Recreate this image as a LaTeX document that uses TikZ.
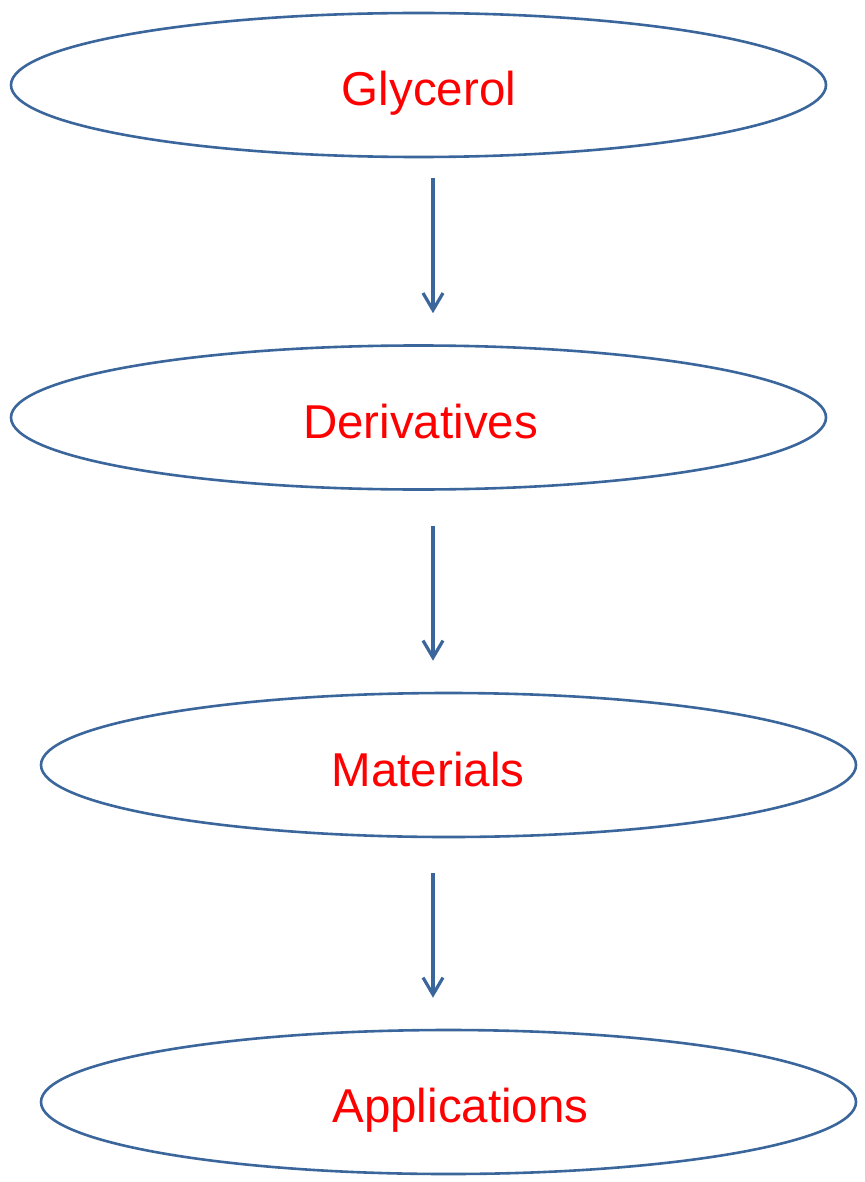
\documentclass[tikz,border=0pt]{standalone}
\usepackage{fontspec}
\setmainfont{Liberation Sans}
\usetikzlibrary{shapes.geometric,arrows.meta}
\definecolor{eblue}{RGB}{58,102,156}
\definecolor{tred}{RGB}{255,0,0}
\tikzset{
  oval/.style={ellipse, draw=eblue, line width=2.6pt, minimum width=815pt, minimum height=144pt, inner sep=0pt},
  lbl/.style={text=tred, font=\fontsize{47.5}{52}\selectfont, anchor=base, inner sep=0pt},
  arr/.style={draw=eblue, line width=3.2pt, -{Straight Barb[length=17pt,width=20pt,line width=3.2pt]}}
}
\begin{document}
\begin{tikzpicture}[x=1pt,y=-1pt]
\useasboundingbox (0,0) rectangle (864,1182);
\node[oval] (e1) at (418.5,85) {};
\node[oval] (e2) at (418.5,417.5) {};
\node[oval] (e3) at (448.5,765) {};
\node[oval] (e4) at (448.5,1102) {};
\node[lbl] (t1) at (429,106) {Glycerol};
\node[lbl] (t2) at (420.5,438) {Derivatives};
\node[lbl] (t3) at (428,786) {Materials};
\node[lbl] (t4) at (460.5,1122) {Applications};
\coordinate (ax) at (433,0);
\draw[arr, shorten <=20pt, shorten >=31pt] (e1.south -| ax) -- (e2.north -| ax);
\draw[arr, shorten <=35pt, shorten >=31pt] (e2.south -| ax) -- (e3.north -| ax);
\draw[arr, shorten <=35pt, shorten >=31pt] (e3.south -| ax) -- (e4.north -| ax);
\end{tikzpicture}
\end{document}
